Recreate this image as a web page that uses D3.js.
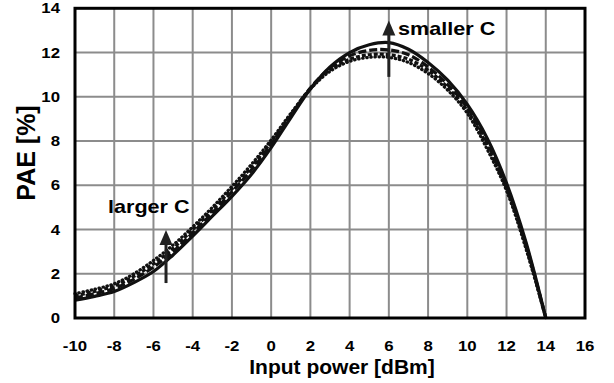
<!DOCTYPE html>
<html>
<head>
<meta charset="utf-8">
<script src="https://cdn.jsdelivr.net/npm/d3@7"></script>
<style>
  body { margin: 0; background: #fff; }
  svg { display: block; font-family: "Liberation Sans", Arial, sans-serif; font-weight: bold; }
</style>
</head>
<body>
<svg id="chart" width="614" height="383"></svg>
<script>
// input power [dBm]
const inputPower = [-10, -9, -8, -7, -6, -5, -4, -3, -2, -1, 0, 1, 2, 3, 4, 5, 6, 7, 8, 9, 10, 11, 12, 13, 14];

// PAE [%] for each capacitor value
const paeSmallest = [0.8, 0.98, 1.2, 1.6, 2.1, 2.85, 3.7, 4.6, 5.5, 6.5, 7.7, 9.05, 10.35, 11.35, 12.0, 12.35, 12.45, 12.15, 11.55, 10.75, 9.65, 8.15, 6.1, 3.4, 0];
const paeSmall = [0.9, 1.1, 1.33, 1.75, 2.3, 3.0, 3.85, 4.75, 5.7, 6.7, 7.85, 9.15, 10.4, 11.3, 11.85, 12.1, 12.12, 11.9, 11.35, 10.55, 9.5, 7.95, 5.95, 3.3, 0];
const paeLarge = [1.0, 1.2, 1.45, 1.88, 2.45, 3.15, 4.0, 4.88, 5.83, 6.83, 7.95, 9.2, 10.38, 11.22, 11.7, 11.9, 11.9, 11.7, 11.2, 10.42, 9.38, 7.8, 5.85, 3.2, 0];
const paeLargest = [1.1, 1.3, 1.55, 2.0, 2.6, 3.3, 4.12, 5.0, 5.95, 6.95, 8.05, 9.25, 10.35, 11.15, 11.6, 11.78, 11.78, 11.55, 11.05, 10.3, 9.25, 7.65, 5.75, 3.1, 0];

const xTicks = [-10, -8, -6, -4, -2, 0, 2, 4, 6, 8, 10, 12, 14, 16];
const yTicks = [0, 2, 4, 6, 8, 10, 12, 14];

const series = [
    {values: paeSmallest, dash: null, cap: 'butt'},
    {values: paeSmall, dash: '8,3', cap: 'butt'},
    {values: paeLarge, dash: '4,2', cap: 'butt'},
    {values: paeLargest, dash: '0.5,3.6', cap: 'round'}
];

const svg = d3.select('#chart');
const x = d3.scaleLinear().domain([-10, 16]).range([75, 585]);
const y = d3.scaleLinear().domain([0, 14]).range([318, 8.3]);

// labels in the original are drawn a bit wider than plain Arial
const stretch = 1.2;

// grid
svg.append('g')
    .selectAll('line')
    .data(xTicks.slice(1, -1))
    .join('line')
    .attr('x1', d => x(d)).attr('x2', d => x(d))
    .attr('y1', y(0)).attr('y2', y(14))
    .attr('stroke', '#8c8c8c')
    .attr('stroke-width', 2);

svg.append('g')
    .selectAll('line')
    .data(yTicks.slice(1, -1))
    .join('line')
    .attr('x1', x(-10)).attr('x2', x(16))
    .attr('y1', d => y(d)).attr('y2', d => y(d))
    .attr('stroke', '#8c8c8c')
    .attr('stroke-width', 2);

// curves
const line = d3.line()
    .x((d, i) => x(inputPower[i]))
    .y(d => y(d))
    .curve(d3.curveCatmullRom.alpha(0.5));

svg.append('g')
    .selectAll('path')
    .data(series)
    .join('path')
    .attr('d', d => line(d.values))
    .attr('fill', 'none')
    .attr('stroke', '#111')
    .attr('stroke-width', 3.2)
    .attr('stroke-linecap', d => d.cap)
    .attr('stroke-dasharray', d => d.dash);

// frame
svg.append('rect')
    .attr('x', x(-10)).attr('y', y(14))
    .attr('width', x(16) - x(-10))
    .attr('height', y(0) - y(14))
    .attr('fill', 'none')
    .attr('stroke', '#000')
    .attr('stroke-width', 3);

// tick labels
svg.append('g')
    .selectAll('text')
    .data(xTicks)
    .join('text')
    .attr('transform', d => `translate(${x(d)},351) scale(${stretch},1)`)
    .attr('text-anchor', 'middle')
    .attr('font-size', 14)
    .text(d => d);

svg.append('g')
    .selectAll('text')
    .data(yTicks)
    .join('text')
    .attr('transform', d => `translate(60,${y(d) + 5}) scale(${stretch},1)`)
    .attr('text-anchor', 'end')
    .attr('font-size', 14)
    .text(d => d);

// axis titles
svg.append('text')
    .attr('x', 342)
    .attr('y', 374)
    .attr('text-anchor', 'middle')
    .attr('font-size', 21)
    .text('Input power [dBm]');

svg.append('text')
    .attr('transform', 'translate(35,153) rotate(-90)')
    .attr('text-anchor', 'middle')
    .attr('font-size', 25)
    .text('PAE [%]');

// annotations
function arrow(xv, y0, y1) {
    const px = x(xv);
    svg.append('line')
        .attr('x1', px).attr('x2', px)
        .attr('y1', y(y0)).attr('y2', y(y1) + 12)
        .attr('stroke', '#222')
        .attr('stroke-width', 3);
    svg.append('path')
        .attr('d', `M${px},${y(y1)} L${px - 6.5},${y(y1) + 15} L${px + 6.5},${y(y1) + 15} Z`)
        .attr('fill', '#222');
}

arrow(-5.36, 1.58, 3.98);
arrow(6, 10.9, 13.45);

svg.append('text')
    .attr('transform', `translate(108,213) scale(${stretch},1)`)
    .attr('font-size', 18)
    .text('larger C');

svg.append('text')
    .attr('transform', `translate(398,35) scale(${stretch},1)`)
    .attr('font-size', 18)
    .text('smaller C');
</script>
</body>
</html>
